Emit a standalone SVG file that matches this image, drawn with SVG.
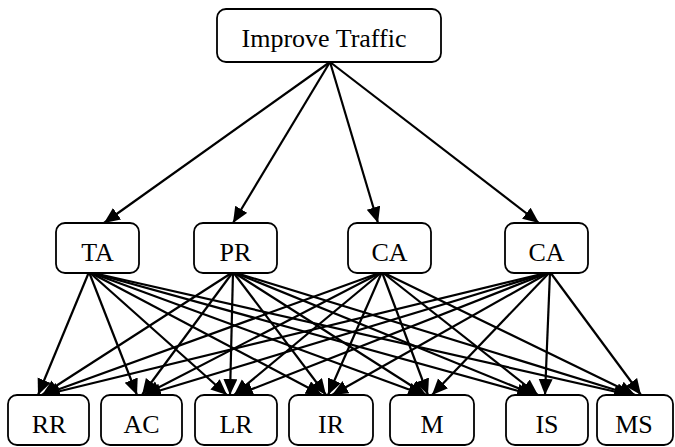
<svg xmlns="http://www.w3.org/2000/svg" width="675" height="447" viewBox="0 0 675 447">
<style>
.box{fill:#fff;stroke:#000;stroke-width:1.8}
.lbl{font-family:"Liberation Serif","Times New Roman",serif;font-size:26px;fill:#000;text-anchor:middle}
.edge{stroke:#000;stroke-width:2.2;fill:none;marker-end:url(#ah)}
</style>
<defs>
<marker id="ah" markerUnits="userSpaceOnUse" markerWidth="18" markerHeight="16" refX="16" refY="7" orient="auto">
<path d="M0,0 L16,7 L0,14 z" fill="#000"/>
</marker>
</defs>
<rect width="675" height="447" fill="#fff"/>
<g id="connectors">
<line class="edge" x1="330" y1="62" x2="104" y2="223"/>
<line class="edge" x1="330" y1="62" x2="233" y2="223"/>
<line class="edge" x1="330" y1="62" x2="378" y2="223"/>
<line class="edge" x1="330" y1="62" x2="539" y2="223"/>
<!-- TA -->
<line class="edge" x1="89" y1="272" x2="38" y2="395"/>
<line class="edge" x1="89" y1="272" x2="137" y2="395"/>
<line class="edge" x1="89" y1="272" x2="227" y2="395"/>
<line class="edge" x1="89" y1="272" x2="322" y2="395"/>
<line class="edge" x1="89" y1="272" x2="424" y2="395"/>
<line class="edge" x1="89" y1="272" x2="533" y2="395"/>
<line class="edge" x1="89" y1="272" x2="630" y2="395"/>
<!-- PR -->
<line class="edge" x1="233" y1="272" x2="42" y2="395"/>
<line class="edge" x1="233" y1="272" x2="142" y2="395"/>
<line class="edge" x1="233" y1="272" x2="230" y2="395"/>
<line class="edge" x1="233" y1="272" x2="326" y2="395"/>
<line class="edge" x1="233" y1="272" x2="426" y2="395"/>
<line class="edge" x1="233" y1="272" x2="535" y2="395"/>
<line class="edge" x1="233" y1="272" x2="632" y2="395"/>
<!-- CA1 -->
<line class="edge" x1="382" y1="272" x2="43" y2="395"/>
<line class="edge" x1="382" y1="272" x2="144" y2="395"/>
<line class="edge" x1="382" y1="272" x2="234" y2="395"/>
<line class="edge" x1="382" y1="272" x2="328" y2="395"/>
<line class="edge" x1="382" y1="272" x2="428" y2="395"/>
<line class="edge" x1="382" y1="272" x2="538" y2="395"/>
<line class="edge" x1="382" y1="272" x2="635" y2="395"/>
<!-- CA2 -->
<line class="edge" x1="550" y1="272" x2="44" y2="395"/>
<line class="edge" x1="550" y1="272" x2="145" y2="395"/>
<line class="edge" x1="550" y1="272" x2="237" y2="395"/>
<line class="edge" x1="550" y1="272" x2="332" y2="395"/>
<line class="edge" x1="550" y1="272" x2="432" y2="395"/>
<line class="edge" x1="550" y1="272" x2="545" y2="395"/>
<line class="edge" x1="550" y1="272" x2="641" y2="395"/>
</g>
<g id="n-top"><rect class="box" x="217" y="9" width="224" height="53" rx="9"/><text class="lbl" x="324" y="47">Improve Traffic</text></g>
<g id="n-ta"><rect class="box" x="56" y="223" width="83" height="50" rx="9"/><text class="lbl" x="97.5" y="261">TA</text></g>
<g id="n-pr"><rect class="box" x="194" y="223" width="83" height="50" rx="9"/><text class="lbl" x="235.5" y="261">PR</text></g>
<g id="n-ca1"><rect class="box" x="348" y="223" width="83" height="50" rx="9"/><text class="lbl" x="389.5" y="261">CA</text></g>
<g id="n-ca2"><rect class="box" x="505" y="223" width="83" height="50" rx="9"/><text class="lbl" x="546.5" y="261">CA</text></g>
<g id="n-rr"><rect class="box" x="8" y="395" width="81" height="50" rx="9"/><text class="lbl" x="49" y="433">RR</text></g>
<g id="n-ac"><rect class="box" x="101" y="395" width="81" height="50" rx="9"/><text class="lbl" x="141.5" y="433">AC</text></g>
<g id="n-lr"><rect class="box" x="195" y="395" width="82" height="50" rx="9"/><text class="lbl" x="236" y="433">LR</text></g>
<g id="n-ir"><rect class="box" x="289" y="395" width="84" height="50" rx="9"/><text class="lbl" x="331" y="433">IR</text></g>
<g id="n-m"><rect class="box" x="390" y="395" width="84" height="50" rx="9"/><text class="lbl" x="432" y="433">M</text></g>
<g id="n-is"><rect class="box" x="506" y="395" width="82" height="50" rx="9"/><text class="lbl" x="547" y="433">IS</text></g>
<g id="n-ms"><rect class="box" x="597" y="395" width="76" height="50" rx="9"/><text class="lbl" x="634" y="433">MS</text></g>
</svg>
